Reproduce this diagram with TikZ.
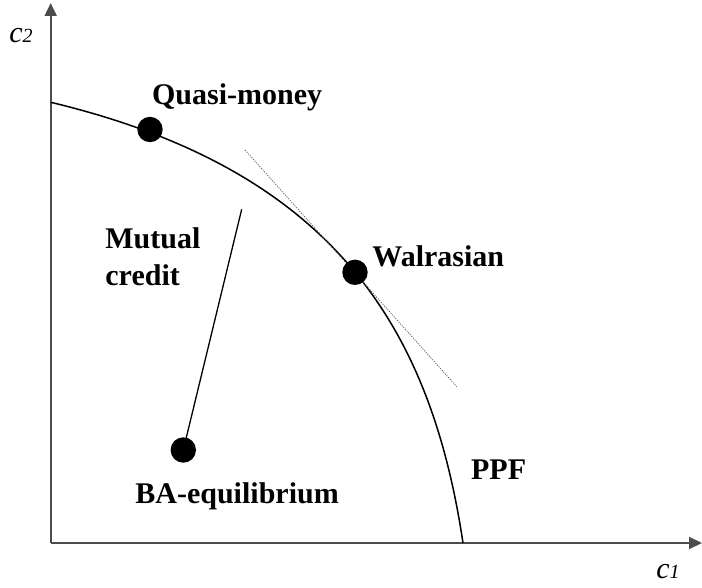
\documentclass[tikz,border=0pt]{standalone}
\usepackage{fontspec}
\setmainfont{Liberation Serif}
\usepackage{tikz}
\usetikzlibrary{positioning,arrows.meta}

\tikzset{
  dot/.style={circle,fill=black,inner sep=0pt,minimum size=12.7pt},
  lbl/.style={inner sep=0pt,anchor=base west,font=\fontsize{15pt}{18.5pt}\selectfont\bfseries},
  axlbl/.style={inner sep=0pt,anchor=base west,font=\fontsize{15pt}{18pt}\selectfont\itshape},
  axis/.style={line width=1pt,black!70,-{Triangle[length=6.5pt,width=6pt]}}
}

\begin{document}
\begin{tikzpicture}[x=0.5pt,y=-0.5pt]
\useasboundingbox (0,0) rectangle (702,588);
% Axes
\coordinate (o) at (50.7,543);
\coordinate (ytop) at (50.7,3);
\coordinate (xend) at (702,543);
\draw[axis] (o) -- (ytop);
\draw[axis] (o) -- (xend);
\node[axlbl] (c2lbl) at (9,42.7) {c{\fontsize{10pt}{10pt}\selectfont 2}};
\node[axlbl] (c1lbl) at (656,578.3) {c{\fontsize{10pt}{10pt}\selectfont 1}};
% PPF
\coordinate (ppftop) at (50.7,102.3);
\coordinate (ppfbot) at (463,543);
\draw[line width=0.75pt] (ppftop) .. controls (331.9,169.6) and (430.4,325.4) .. (ppfbot);
\node[lbl] (ppflbl) at (470.7,479.3) {PPF};
% Tangent at the Walrasian point
\coordinate (tana) at (245,150);
\coordinate (tanb) at (456.7,386.7);
\draw[line width=0.4pt,black!60,dash pattern=on 0.6pt off 0.6pt] (tana) -- (tanb);
% Points
\node[dot] (qm) at (150,129.5) {};
\node[dot] (wal) at (355,272.3) {};
\node[dot] (ba) at (183.3,450) {};
\node[lbl] (qmlbl) at (151.7,105) {Quasi-money};
\node[lbl] (wallbl) at (372,266.7) {Walrasian};
\node[lbl] (balbl) at (135,503.3) {BA-equilibrium};
% Mutual credit
\coordinate (mctop) at (241.7,209.3);
\draw[line width=0.65pt] (mctop) -- (ba.center);
\node[lbl,align=left] (mclbl) at (105,286) {Mutual\\credit};
\end{tikzpicture}
\end{document}
